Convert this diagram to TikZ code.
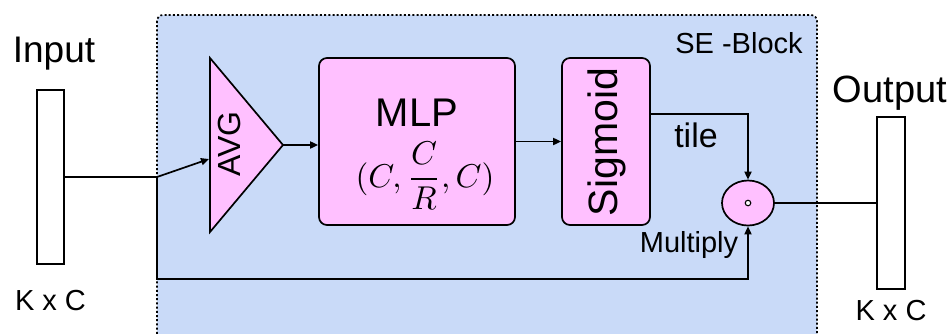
\documentclass[tikz,border=0pt]{standalone}
\usepackage{fontspec}
\setmainfont{Liberation Sans}
\usetikzlibrary{arrows.meta,shapes.geometric}
\definecolor{bluec}{HTML}{C9DAF8}
\definecolor{pinkc}{HTML}{FFC0FF}
\begin{document}
\begin{tikzpicture}[x=1pt,y=-1pt,
  ln/.style={line width=1.7pt},
  arr/.style={ln,-{Triangle[length=8pt,width=7pt]}},
  pinkbox/.style={draw, line width=1.7pt, fill=pinkc, rounded corners=8pt, inner sep=0pt},
  whitebar/.style={draw, line width=1.7pt, fill=white, inner sep=0pt},
  fs/.style={font=\fontsize{#1}{#1}\selectfont}]
\clip (0,0) rectangle (952,333);
\fill[white] (0,0) rectangle (952,333);
% SE block
\draw[dash pattern=on 2pt off 2.2pt, line width=1.7pt, fill=bluec, rounded corners=6pt] (157,15) rectangle (817,360);
\node[fs=29, anchor=base] (se) at (739,53) {SE -Block};
% input / output
\node[whitebar, minimum width=27pt, minimum height=174pt] (in) at (50.5,177) {};
\node[fs=37, anchor=base] (intxt) at (54,62) {Input};
\node[fs=29, anchor=base] (kcin) at (50.5,310) {K x C};
\node[whitebar, minimum width=28pt, minimum height=172pt] (out) at (891,203) {};
\node[fs=38, anchor=base] (outtxt) at (890,102) {Output};
\node[fs=29, anchor=base] (kcout) at (891,320) {K x C};
% AVG triangle
\draw[ln, fill=pinkc] (210,58) -- (210,232) -- (283,145) -- cycle;
\coordinate (avgin) at (209,159);
\coordinate (avgtip) at (283,145);
\node[fs=32, rotate=90] (avg) at (229,144) {AVG};
% MLP
\node[pinkbox, minimum width=196pt, minimum height=167pt] (mlp) at (417,141.5) {};
\node[fs=40, anchor=base] (mlptxt) at (417,126) {MLP};
\node[scale=3.3] (mlpmath) at (425,176) {$\displaystyle (C,\frac{C}{R},C)$};
% Sigmoid
\node[pinkbox, minimum width=88pt, minimum height=167pt] (sig) at (606,141.5) {};
\node[fs=41, rotate=90] (sigtxt) at (607,142) {Sigmoid};
% multiply
\node[ellipse, draw, line width=1.7pt, fill=pinkc, minimum width=52pt, minimum height=45pt, inner sep=0pt] (mul) at (748,203) {};
\node[circle, draw, line width=1.1pt, fill=white, minimum size=5.5pt, inner sep=0pt] (dot) at (mul.center) {};
\node[fs=34, anchor=base] (tile) at (696,147) {tile};
\node[fs=29, anchor=base] (multxt) at (689,252) {Multiply};
% connectors
\coordinate (split) at (157,177);
\coordinate (low) at (157,279);
\coordinate (sigout) at (650,114);
\draw[ln] (in.east) -- (split);
\draw[arr] (split) -- (avgin);
\draw[arr] (split) -- (low) -| (mul.south);
\draw[arr] (avgtip) -- (avgtip -| mlp.west);
\draw[arr] (mlp.east) -- (sig.west);
\draw[arr] (sigout) -| (mul.north);
\draw[ln] (mul.east) -- (out.west);
\end{tikzpicture}
\end{document}
